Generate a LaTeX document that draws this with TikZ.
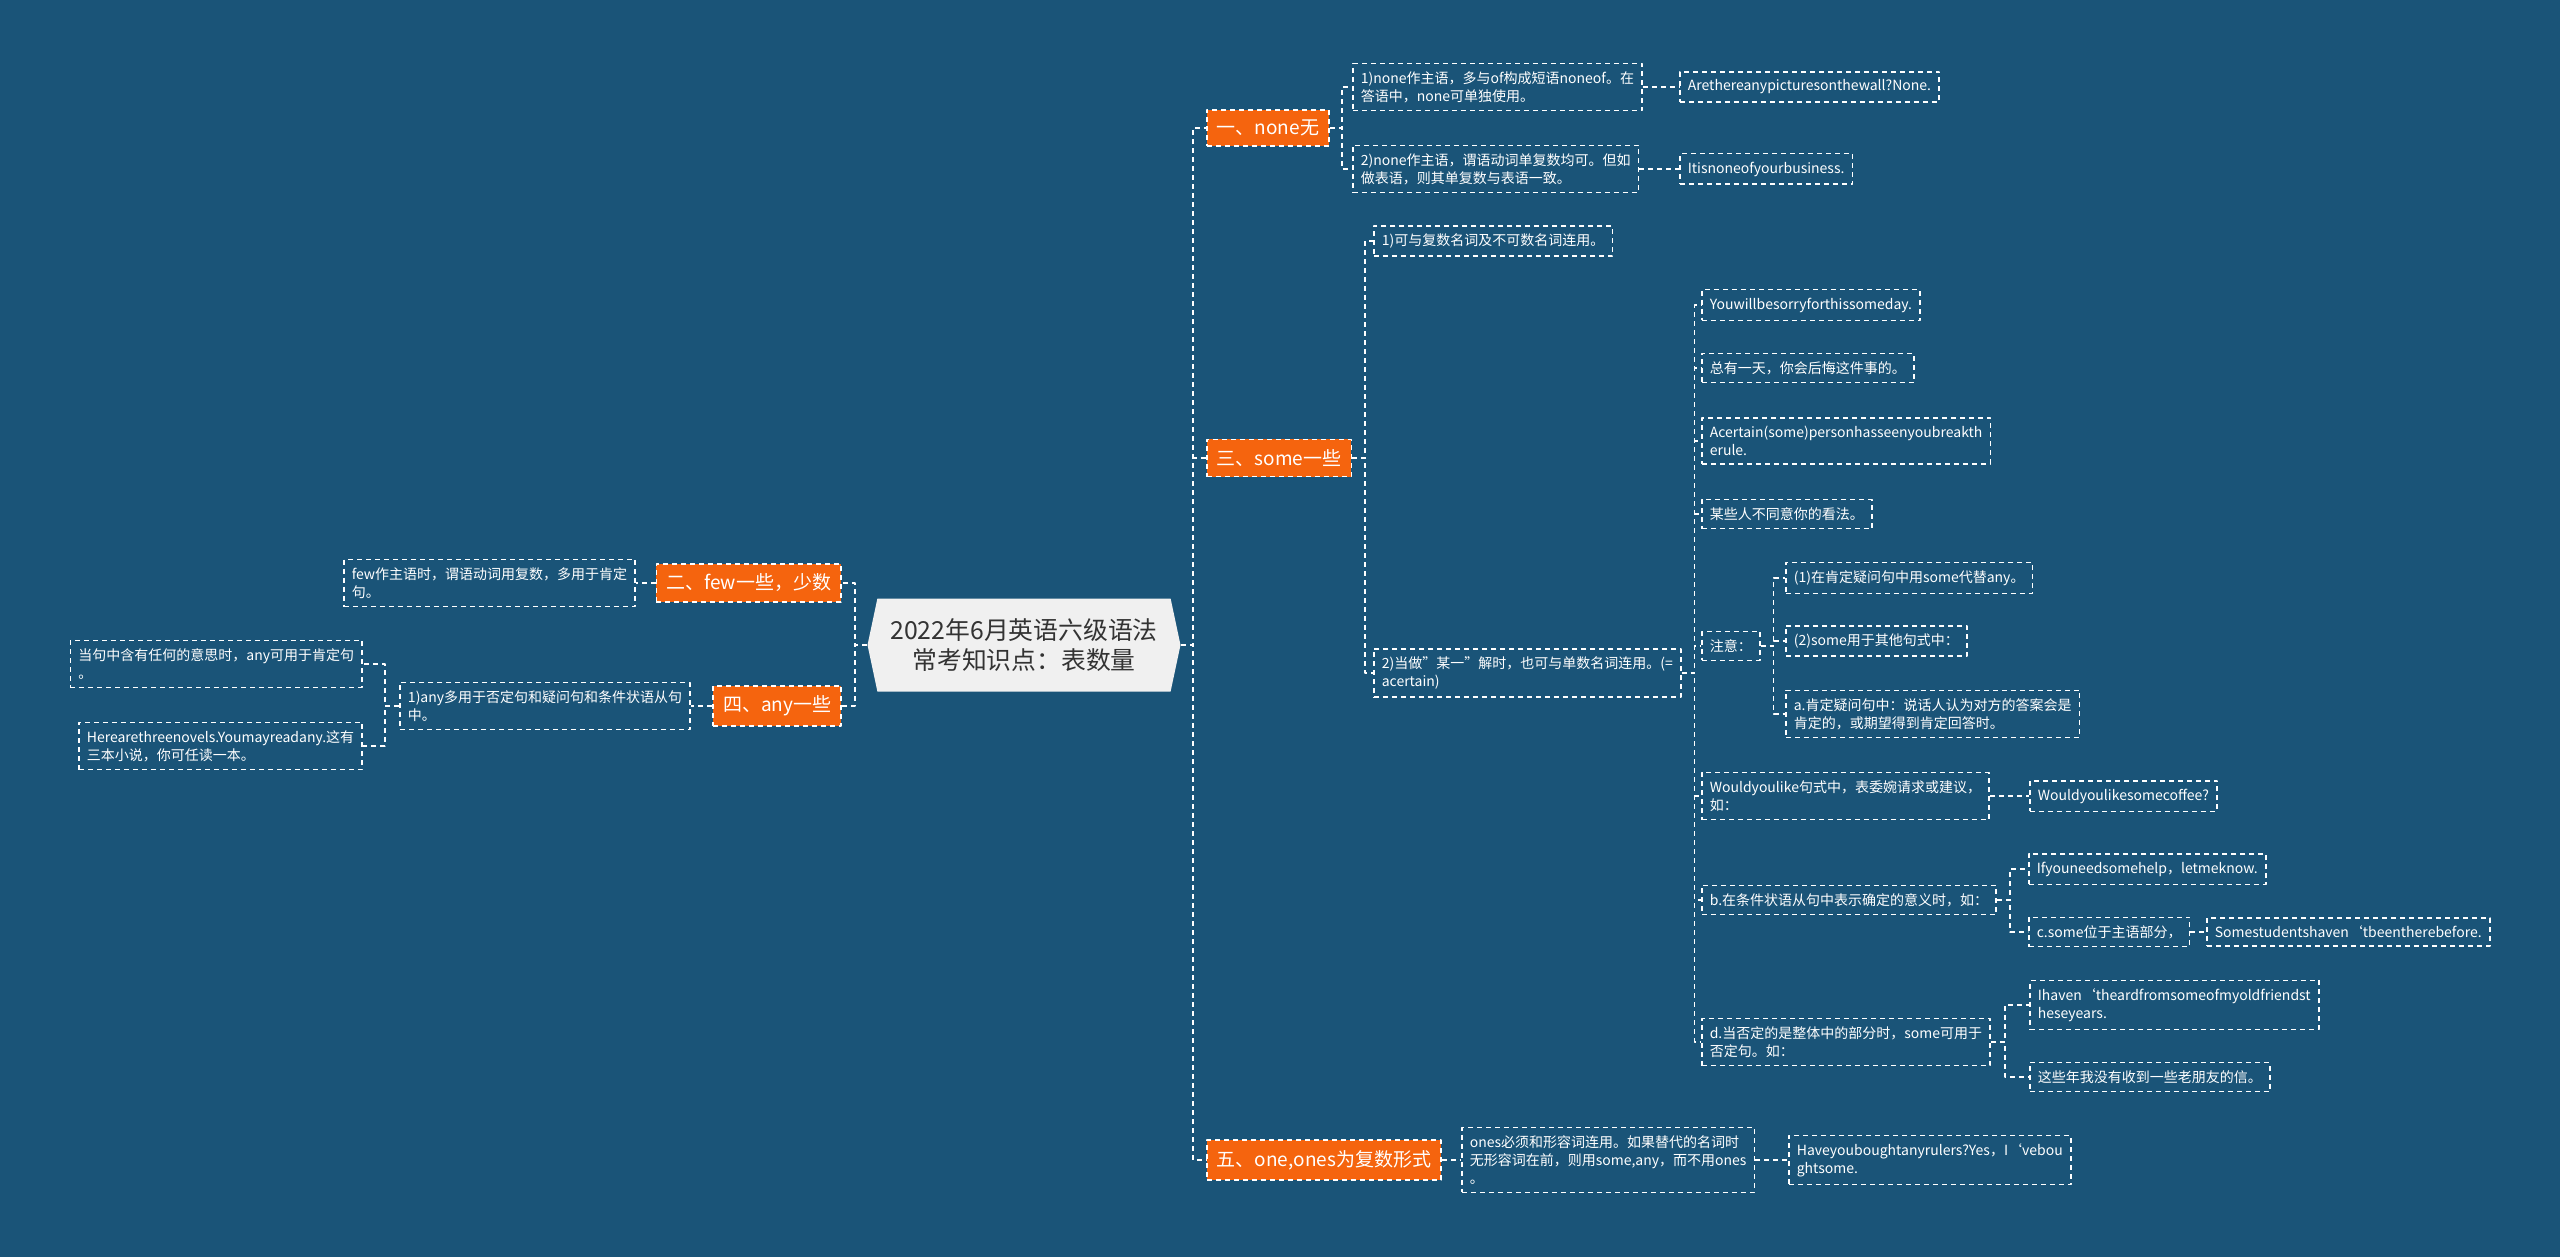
\documentclass[tikz,border=0pt]{standalone}
\usepackage{fontspec}
\setmainfont{Noto Sans CJK SC}
\usepackage{tikz}
\usetikzlibrary{shapes.symbols}
\definecolor{bg}{HTML}{1A5478}
\definecolor{topicorange}{HTML}{F5640E}
\definecolor{rootfill}{HTML}{F0F0F0}
\definecolor{rootink}{HTML}{333333}
\tikzset{
  every picture/.style={line join=round},
  link/.style={draw=white,line width=0.8pt,dash pattern=on 2.5pt off 2pt},
  topic/.style={fill=topicorange,draw=white,line width=0.8pt,dash pattern=on 2.5pt off 2pt,
    text=white,font=\fontsize{9.5}{12}\selectfont,inner xsep=5pt,inner ysep=5pt},
  leaf/.style={draw=white,line width=0.8pt,dash pattern=on 2.5pt off 2pt,
    text=white,font=\fontsize{7}{9}\selectfont,align=left,inner sep=4pt},
  rootbox/.style={signal,signal to=west and east,signal pointer angle=156,fill=rootfill,
    text=rootink,font=\fontsize{12.4}{15}\selectfont,align=center,minimum height=46.5pt,inner xsep=6.5pt},
}
\begin{document}
\begin{tikzpicture}[x=0.5pt,y=-0.5pt]
\fill[bg](0,0)rectangle(2560,1257);
\useasboundingbox(0,0)rectangle(2560,1257);
\node[rootbox](root)at(1024,645){2022年6月英语六级语法\\常考知识点：表数量};
% main topics
\node[topic,anchor=west](none)at(1206,128){一、none无};
\node[topic,anchor=west](some)at(1206,458){三、some一些};
\node[topic,anchor=west](ones)at(1206,1160){五、one,ones为复数形式};
\node[topic,anchor=east](few)at(842,583){二、few一些，少数};
\node[topic,anchor=east](any)at(842,706){四、any一些};
% none
\node[leaf,anchor=west](nonea)at(1352,87){1)none作主语，多与of构成短语noneof。在\\答语中，none可单独使用。};
\node[leaf,anchor=west](noneb)at(1352,169){2)none作主语，谓语动词单复数均可。但如\\做表语，则其单复数与表语一致。};
\node[leaf,anchor=west](noneax)at(1679,87){Arethereanypicturesonthewall?None.};
\node[leaf,anchor=west](nonebx)at(1679,169){Itisnoneofyourbusiness.};
% some
\node[leaf,anchor=west](somea)at(1373,241){1)可与复数名词及不可数名词连用。};
\node[leaf,anchor=west](someb)at(1373,673){2)当做"某一"解时，也可与单数名词连用。(=\\acertain)};
\node[leaf,anchor=west](ex1)at(1701,305){Youwillbesorryforthissomeday.};
\node[leaf,anchor=west](ex2)at(1701,368){总有一天，你会后悔这件事的。};
\node[leaf,anchor=west](ex3)at(1701,441){Acertain(some)personhasseenyoubreakth\\erule.};
\node[leaf,anchor=west](ex4)at(1701,514){某些人不同意你的看法。};
\node[leaf,anchor=west](note)at(1701,646){注意：};
\node[leaf,anchor=west](polite)at(1701,796){Wouldyoulike句式中，表委婉请求或建议，\\如：};
\node[leaf,anchor=west](cond)at(1701,900){b.在条件状语从句中表示确定的意义时，如：};
\node[leaf,anchor=west](partneg)at(1701,1042){d.当否定的是整体中的部分时，some可用于\\否定句。如：};
\node[leaf,anchor=west](notea)at(1785,578){(1)在肯定疑问句中用some代替any。};
\node[leaf,anchor=west](noteb)at(1785,641){(2)some用于其他句式中：};
\node[leaf,anchor=west](notec)at(1785,714){a.肯定疑问句中：说话人认为对方的答案会是\\肯定的，或期望得到肯定回答时。};
\node[leaf,anchor=west](politex)at(2029,796){Wouldyoulikesomecoffee?};
\node[leaf,anchor=west](conda)at(2028,869){Ifyouneedsomehelp，letmeknow.};
\node[leaf,anchor=west](condb)at(2028,932){c.some位于主语部分，};
\node[leaf,anchor=west](condbx)at(2206,932){Somestudentshaven‘tbeentherebefore.};
\node[leaf,anchor=west](partnega)at(2029,1005){Ihaven‘theardfromsomeofmyoldfriendst\\heseyears.};
\node[leaf,anchor=west](partnegb)at(2029,1077){这些年我没有收到一些老朋友的信。};
% ones
\node[leaf,anchor=west](onesa)at(1461,1160){ones必须和形容词连用。如果替代的名词时\\无形容词在前，则用some,any，而不用ones\\。};
\node[leaf,anchor=west](onesx)at(1788,1160){Haveyouboughtanyrulers?Yes，I‘vebou\\ghtsome.};
% left side
\node[leaf,anchor=east](fewa)at(636,583){few作主语时，谓语动词用复数，多用于肯定\\句。};
\node[leaf,anchor=east](anya)at(691,706){1)any多用于否定句和疑问句和条件状语从句\\中。};
\node[leaf,anchor=east](anyb)at(363,664){当句中含有任何的意思时，any可用于肯定句\\。};
\node[leaf,anchor=east](anyc)at(363,746){Herearethreenovels.Youmayreadany.这有\\三本小说，你可任读一本。};
% connectors
\draw[link](root.east)--++(12,0)|-(none.west)
(root.east)--++(12,0)|-(some.west)
(root.east)--++(12,0)|-(ones.west);
\draw[link](root.west)--++(-12,0)|-(few.east)
(root.west)--++(-12,0)|-(any.east);
\draw[link](none.east)--++(12,0)|-(nonea.west)
(none.east)--++(12,0)|-(noneb.west);
\draw[link](nonea.east)--(noneax.west)
(noneb.east)--(nonebx.west);
\draw[link](some.east)--++(13,0)|-(somea.west)
(some.east)--++(13,0)|-(someb.west);
\draw[link](someb.east)--++(13,0)|-(ex1.west)
(someb.east)--++(13,0)|-(ex2.west)
(someb.east)--++(13,0)|-(ex3.west)
(someb.east)--++(13,0)|-(ex4.west)
(someb.east)--++(13,0)|-(note.west)
(someb.east)--++(13,0)|-(polite.west)
(someb.east)--++(13,0)|-(cond.west)
(someb.east)--++(13,0)|-(partneg.west);
\draw[link](note.east)--++(13,0)|-(notea.west)
(note.east)--++(13,0)|-(noteb.west)
(note.east)--++(13,0)|-(notec.west);
\draw[link](polite.east)--(politex.west);
\draw[link](cond.east)--++(13,0)|-(conda.west)
(cond.east)--++(13,0)|-(condb.west);
\draw[link](condb.east)--(condbx.west);
\draw[link](partneg.east)--++(14,0)|-(partnega.west)
(partneg.east)--++(14,0)|-(partnegb.west);
\draw[link](ones.east)--(onesa.west)
(onesa.east)--(onesx.west);
\draw[link](few.west)--(fewa.east);
\draw[link](any.west)--(anya.east);
\draw[link](anya.west)--++(-14,0)|-(anyb.east)
(anya.west)--++(-14,0)|-(anyc.east);
\end{tikzpicture}
\end{document}
